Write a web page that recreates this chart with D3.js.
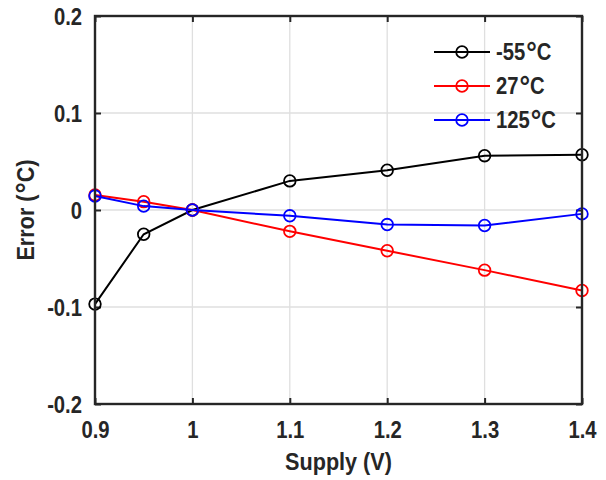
<!DOCTYPE html>
<html><head><meta charset="utf-8">
<script src="https://cdn.jsdelivr.net/npm/d3@7"></script>
<style>
body{margin:0;background:#fff;}
text{font-family:"Liberation Sans",Arial,sans-serif;font-weight:bold;fill:#262626;}
</style></head>
<body><svg id="c" width="606" height="480"></svg>
<script>
const supply = [0.9, 0.95, 1.0, 1.1, 1.2, 1.3, 1.4];
const errM55 = [-0.097, -0.025, 0.0, 0.030, 0.041, 0.056, 0.057];
const err27 = [0.0155, 0.0086, 0.0, -0.022, -0.042, -0.062, -0.083];
const err125 = [0.0144, 0.004, 0.0, -0.006, -0.015, -0.016, -0.004];
const seriesNames = ["-55°C", "27°C", "125°C"];
const seriesColors = ["#000000", "#ff0000", "#0000ff"];
const xTicks = [0.9, 1, 1.1, 1.2, 1.3, 1.4];
const yTicks = [-0.2, -0.1, 0, 0.1, 0.2];
const xTickLabels = ["0.9", "1", "1.1", "1.2", "1.3", "1.4"];
const yTickLabels = ["-0.2", "-0.1", "0", "0.1", "0.2"];

const series = [errM55, err27, err125];
const svg = d3.select("#c");
const L = 95, R = 582, T = 16, B = 404;
const x = d3.scaleLinear().domain([0.9, 1.4]).range([L, R]);
const y = d3.scaleLinear().domain([-0.2, 0.2]).range([B, T]);
const ink = "#262626";
const SX = 0.88;

// grid
const g = svg.append("g");
g.selectAll(".gx").data(xTicks).enter().append("line")
  .attr("x1", d => x(d)).attr("x2", d => x(d)).attr("y1", T).attr("y2", B)
  .attr("stroke", "#dfdfdf").attr("stroke-width", 1.3);
g.selectAll(".gy").data(yTicks).enter().append("line")
  .attr("y1", d => y(d)).attr("y2", d => y(d)).attr("x1", L).attr("x2", R)
  .attr("stroke", "#dfdfdf").attr("stroke-width", 1.3);

// axes
const fmtX = (d, i) => xTickLabels[i];
const fmtY = (d, i) => yTickLabels[i];
const axB = svg.append("g").attr("transform", `translate(0,${B})`)
  .call(d3.axisBottom(x).tickValues(xTicks).tickFormat(fmtX).tickSizeInner(-6).tickSizeOuter(0).tickPadding(18));
const axT = svg.append("g").attr("transform", `translate(0,${T})`)
  .call(d3.axisTop(x).tickValues(xTicks).tickFormat("").tickSizeInner(-6).tickSizeOuter(0));
const axL = svg.append("g").attr("transform", `translate(${L},0)`)
  .call(d3.axisLeft(y).tickValues(yTicks).tickFormat(fmtY).tickSizeInner(-6).tickSizeOuter(0).tickPadding(13));
const axR = svg.append("g").attr("transform", `translate(${R},0)`)
  .call(d3.axisRight(y).tickValues(yTicks).tickFormat("").tickSizeInner(-6).tickSizeOuter(0));
[axB, axT, axL, axR].forEach(a => {
  a.select(".domain").remove();
  a.selectAll(".tick line").attr("stroke", ink).attr("stroke-width", 2);
  a.selectAll("text").attr("font-size", 23).attr("fill", ink)
    .style("font-family", '"Liberation Sans",Arial,sans-serif').style("font-weight", "bold")
    .attr("transform", `scale(${SX},1)`);
});
axL.selectAll("text").attr("dy", "0.36em").attr("x", -13 / SX);

// lines
const line = d3.line().x((d, i) => x(supply[i])).y(d => y(d));
series.forEach((s, k) => {
  svg.append("path").datum(s).attr("d", line).attr("fill", "none")
    .attr("stroke", seriesColors[k]).attr("stroke-width", 2);
  svg.selectAll(null).data(s).enter().append("circle")
    .attr("cx", (d, i) => x(supply[i])).attr("cy", d => y(d)).attr("r", 5.8)
    .attr("fill", "none").attr("stroke", seriesColors[k]).attr("stroke-width", 1.8);
});

// box
svg.append("rect").attr("x", L).attr("y", T).attr("width", R - L).attr("height", B - T)
  .attr("fill", "none").attr("stroke", ink).attr("stroke-width", 2.4);

// text with enlarged degree sign
function degText(sel, str) {
  const parts = str.split("°");
  sel.append("tspan").text(parts[0]);
  sel.append("tspan").attr("font-size", 30).attr("dx", 1).attr("dy", 3).text("°");
  sel.append("tspan").attr("dy", -3).text(parts[1]);
}

// legend
const leg = svg.append("g");
seriesNames.forEach((n, k) => {
  const yy = 52 + k * 34;
  leg.append("line").attr("x1", 434).attr("x2", 490).attr("y1", yy).attr("y2", yy)
    .attr("stroke", seriesColors[k]).attr("stroke-width", 2);
  leg.append("circle").attr("cx", 462).attr("cy", yy).attr("r", 5.8)
    .attr("fill", "none").attr("stroke", seriesColors[k]).attr("stroke-width", 1.8);
  const t = leg.append("text").attr("transform", `translate(496,${yy + 8}) scale(${SX},1)`)
    .attr("font-size", 23);
  degText(t, n);
});

// axis titles
svg.append("text").attr("transform", `translate(${(L + R) / 2},470) scale(0.94,1)`).attr("text-anchor", "middle")
  .attr("font-size", 23).text("Supply (V)");
const yl = svg.append("text").attr("transform", `translate(34,${(T + B) / 2}) rotate(-90) scale(0.94,1)`)
  .attr("text-anchor", "middle").attr("font-size", 23);
degText(yl, "Error (°C)");
</script></body></html>
